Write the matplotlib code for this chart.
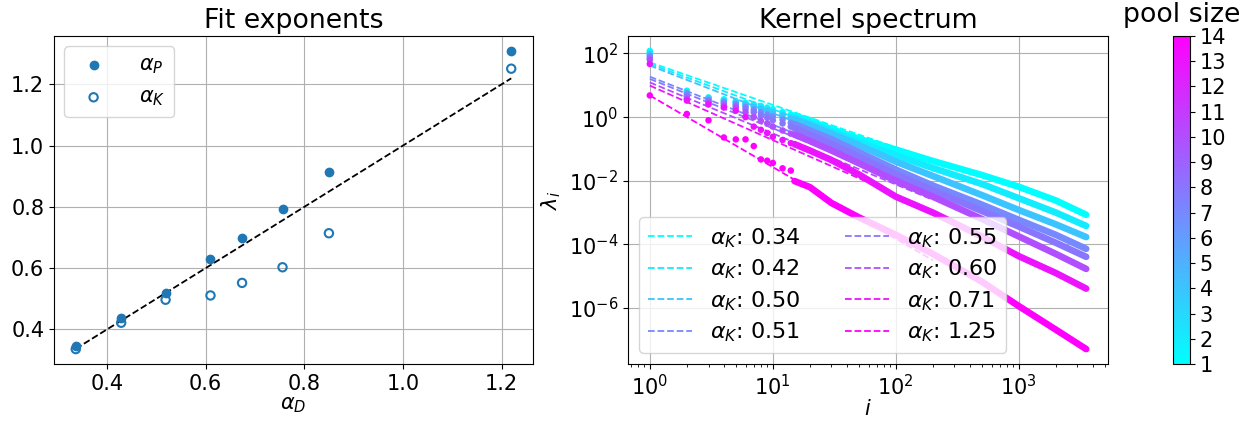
import numpy as np
import matplotlib
matplotlib.use("Agg")
import matplotlib.pyplot as plt
from matplotlib.cm import ScalarMappable
from matplotlib.colors import Normalize

# ---------------- data: left panel ----------------
alpha_D = [0.337, 0.429, 0.519, 0.610, 0.674, 0.756, 0.850, 1.2195]
alpha_P = [0.346, 0.437, 0.519, 0.629, 0.697, 0.794, 0.915, 1.309]
alpha_K = [0.336, 0.422, 0.497, 0.511, 0.552, 0.603, 0.714, 1.251]

# ---------------- data: right panel ----------------
pool_sizes = [1, 2, 4, 7, 8, 10, 13, 14]
# log10 of the intercept of each power-law fit (value at i = 1)
fit_log_c = [1.72, 1.67, 1.62, 1.27, 1.20, 1.09, 0.99, 0.68]
fit_i_range = [1, 200]   # index range over which the fits are drawn

idx = [1, 2, 3, 4, 5, 6, 7, 8, 9, 10, 12, 14, 15, 20, 30, 50, 100, 200, 500, 1000, 2000, 3530]
# log10(lambda_i) read at the indices above, one list per pool size
loglam_p1 = [2.08, 0.83, 0.62, 0.56, 0.50, 0.45, 0.40, 0.35, 0.30, 0.25, 0.16, 0.08, 0.05, -0.12, -0.38, -0.68, -1.02, -1.38, -1.82, -2.19, -2.62, -3.07]
loglam_p2 = [2.03, 0.80, 0.60, 0.53, 0.48, 0.42, 0.37, 0.31, 0.26, 0.20, 0.10, 0.01, -0.02, -0.20, -0.45, -0.78, -1.20, -1.60, -2.10, -2.55, -3.00, -3.42]
loglam_p3 = [1.98, 0.76, 0.58, 0.50, 0.45, 0.38, 0.32, 0.26, 0.20, 0.14, 0.05, -0.04, -0.07, -0.25, -0.52, -0.88, -1.40, -1.85, -2.45, -2.92, -3.37, -3.77]
loglam_p4 = [1.92, 0.70, 0.53, 0.46, 0.40, 0.32, 0.23, 0.15, 0.08, 0.02, -0.08, -0.18, -0.22, -0.42, -0.70, -1.10, -1.65, -2.15, -2.75, -3.23, -3.70, -4.14]
loglam_p5 = [1.86, 0.65, 0.50, 0.42, 0.36, 0.25, 0.15, 0.05, -0.02, -0.10, -0.20, -0.30, -0.35, -0.55, -0.85, -1.25, -1.80, -2.30, -2.95, -3.44, -3.95, -4.39]
loglam_p6 = [1.80, 0.58, 0.45, 0.36, 0.30, 0.15, 0.00, -0.12, -0.20, -0.30, -0.42, -0.52, -0.55, -0.75, -1.05, -1.45, -2.00, -2.50, -3.20, -3.75, -4.30, -4.77]
loglam_p7 = [1.67, 0.52, 0.40, 0.30, 0.20, 0.00, -0.30, -0.40, -0.50, -0.62, -0.72, -0.82, -0.85, -1.05, -1.35, -1.80, -2.50, -3.00, -3.75, -4.37, -4.90, -5.39]
loglam_p8 = [0.68, 0.10, -0.10, -0.64, -0.70, -0.70, -0.91, -1.33, -1.37, -1.44, -1.61, -1.68, -2.01, -2.20, -2.70, -3.15, -3.70, -4.30, -5.17, -5.94, -6.68, -7.29]
spectra = [loglam_p1, loglam_p2, loglam_p3, loglam_p4,
           loglam_p5, loglam_p6, loglam_p7, loglam_p8]

# ---------------- figure ----------------
W, H = 1251, 421
fig = plt.figure(figsize=(W / 100, H / 100), dpi=100)
TICK = 15
TITLE = 19.3

def frac(x0, y0, x1, y1):
    return [x0 / W, 1 - y1 / H, (x1 - x0) / W, (y1 - y0) / H]

ax1 = fig.add_axes(frac(54, 36, 533, 364))
ax2 = fig.add_axes(frac(628, 36, 1108, 364))
cax = fig.add_axes(frac(1173, 36, 1190, 364))

# ----- left panel -----
ax1.scatter(alpha_D, alpha_P, color="C0", label=r"$\alpha_P$", zorder=3)
ax1.scatter(alpha_D, alpha_K, facecolors="none", edgecolors="C0",
            linewidths=1.5, label=r"$\alpha_K$", zorder=3)
ax1.plot([min(alpha_D), max(alpha_D)], [min(alpha_D), max(alpha_D)],
         "k--", lw=1.3, zorder=2)
ax1.grid(True)
ax1.set_title("Fit exponents", fontsize=TITLE)
ax1.set_xlabel(r"$\alpha_D$", fontsize=TICK, labelpad=1)
ax1.tick_params(labelsize=TICK)
ax1.set_xticks([0.4, 0.6, 0.8, 1.0, 1.2])
ax1.set_yticks([0.4, 0.6, 0.8, 1.0, 1.2])
ax1.legend(loc="upper left", fontsize=TICK, handletextpad=1.2)

# ----- right panel -----
cmap = plt.get_cmap("cool")
norm = Normalize(vmin=1, vmax=14)
idx_arr = np.array(idx, dtype=float)
n_disc = idx.index(14) + 1      # discrete dots up to i = 14
n_band = idx.index(15)          # dense band from i = 15 onwards
i_fit = np.array(fit_i_range, dtype=float)

for p, lam_log, c0, ak in zip(pool_sizes, spectra, fit_log_c, alpha_K):
    col = cmap(norm(p))
    lam = np.power(10.0, np.array(lam_log))
    ax2.scatter(idx_arr[:n_disc], lam[:n_disc], s=22, color=col,
                edgecolors="none", zorder=2)
    ax2.plot(idx_arr[n_band:], lam[n_band:], "-", color=col, lw=4.8,
             solid_capstyle="round", solid_joinstyle="round", zorder=2)
    ax2.plot(i_fit, 10 ** c0 * i_fit ** (-(1 + ak)), "--", color=col,
             lw=1.3, label=r"$\alpha_K$: " + f"{ak:.2f}", zorder=2)

ax2.set_xscale("log")
ax2.set_yscale("log")
ax2.grid(True)
ax2.set_title("Kernel spectrum", fontsize=TITLE)
ax2.set_xlabel(r"$i$", fontsize=TICK, labelpad=0)
ax2.set_ylabel(r"$\lambda_i$", fontsize=TICK)
ax2.tick_params(labelsize=TICK)
ax2.legend(loc="lower left", ncol=2, fontsize=16, labelspacing=0.35)

# ----- colorbar -----
sm = ScalarMappable(norm=norm, cmap=cmap)
cb = fig.colorbar(sm, cax=cax, ticks=list(range(1, 15)))
cb.ax.tick_params(labelsize=TICK)
cax.set_title("pool size", fontsize=TITLE, pad=10)

fig.savefig("out.png", dpi=100)
